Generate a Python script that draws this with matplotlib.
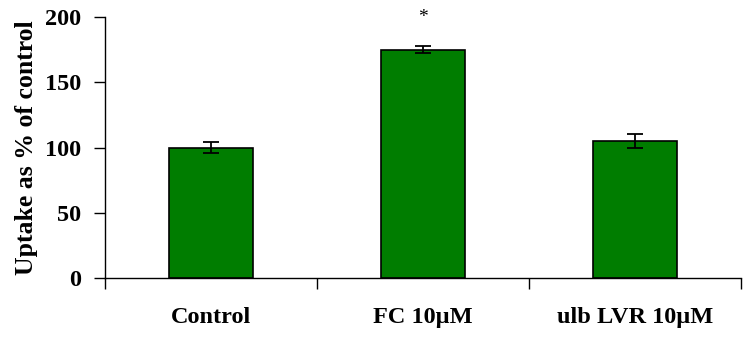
import matplotlib
matplotlib.use("Agg")
import matplotlib.pyplot as plt

categories = ["Control", "FC 10\u00b5M", "ulb LVR 10\u00b5M"]
values = [100, 175, 105]
errors = [4, 2.5, 5.5]
significance = ["", "*", ""]

plt.rcParams['font.family'] = ['Liberation Serif', 'DejaVu Serif']

fig = plt.figure(figsize=(7.51, 3.41), dpi=100)
ax = fig.add_axes([105/751, 1-278/341, (741-105)/751, (278-17)/341])

x = list(range(len(categories)))
ax.bar(x, values, width=0.4, color="#007D00", edgecolor="black", linewidth=1.2, zorder=2)
ax.errorbar(x, values, yerr=errors, fmt="none", ecolor="black", elinewidth=1.3,
            capsize=6, capthick=1.3, zorder=3)
for xi, v, e, s in zip(x, values, errors, significance):
    if s:
        ax.text(xi, 193, s, ha="center", va="bottom", fontsize=14, clip_on=False)

ax.set_xlim(-0.5, 2.5)
ax.set_ylim(0, 200)
ax.set_yticks([0, 50, 100, 150, 200])
ax.set_xticks(x)
ax.set_xticklabels(categories, fontsize=17.5, fontweight="bold")
ax.set_xticks([-0.5, 0.5, 1.5, 2.5], minor=True)
ax.tick_params(axis="x", which="major", length=0, pad=21)
ax.tick_params(axis="x", which="minor", length=8, width=1, direction="out")
ax.tick_params(axis="y", length=8, width=1, direction="out", pad=9, labelsize=17.5)
for lab in ax.get_yticklabels():
    lab.set_fontweight("bold")
ax.set_ylabel("Uptake as % of control", fontsize=18.5, fontweight="bold", labelpad=5)
ax.spines["top"].set_visible(False)
ax.spines["right"].set_visible(False)
ax.spines["left"].set_linewidth(1)
ax.spines["bottom"].set_linewidth(1)

fig.savefig("out.png", dpi=100)
